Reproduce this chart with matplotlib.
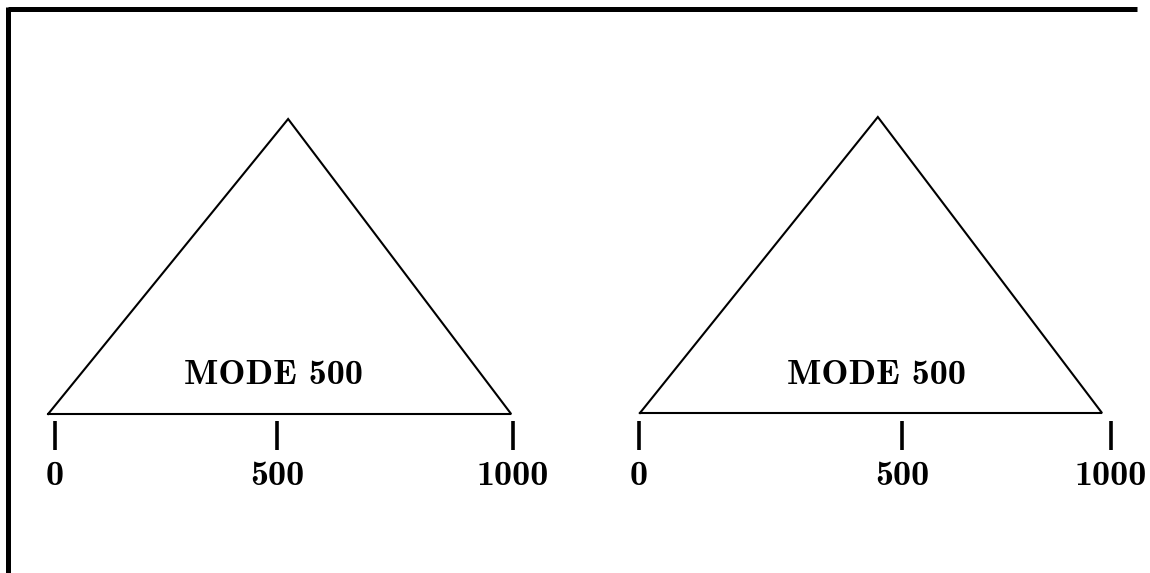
import matplotlib
matplotlib.use("Agg")
import matplotlib.pyplot as plt
from matplotlib.lines import Line2D

# Data (x in value units, y relative height)
panel_names = ["left", "right"]
tri_x_left = [-15, 509, 996]
tri_x_right = [2, 506, 981]
tri_y = [0, 1, 0]
tick_pos_left = [0, 485, 1000]
tick_pos_right = [0, 557, 1000]
tick_labels = ["0", "500", "1000"]
mode_label = "MODE 500"

W, H = 1150, 573
fig = plt.figure(figsize=(W / 100, H / 100), dpi=100)

FONT = "cmb10"
FS = 26

def add_panel(px0, px1, base_px, peak_px, tri_x, tick_pos, text_x):
    ax = fig.add_axes([px0 / W, 1 - base_px / H, (px1 - px0) / W, (base_px - peak_px) / H])
    ax.set_xlim(0, 1000)
    ax.set_ylim(0, 1)
    ax.axis("off")
    ax.plot(tri_x + [tri_x[0]], tri_y + [tri_y[0]], color="black", lw=1.5,
            clip_on=False, solid_joinstyle="miter")
    span = base_px - peak_px
    trans = ax.get_xaxis_transform()
    ax.vlines(tick_pos, -(450 - base_px) / span, -(421 - base_px) / span,
              colors="black", lw=2.6, transform=trans, clip_on=False)
    for p, lab in zip(tick_pos, tick_labels):
        ax.text(p, -(485 - base_px) / span, lab, transform=trans, ha="center",
                va="baseline", fontsize=FS, family=FONT, color="black", clip_on=False)
    ax.text(text_x, (base_px - 384) / span, mode_label, transform=trans, ha="center",
            va="baseline", fontsize=FS, family=FONT, color="black", clip_on=False)
    return ax

add_panel(55, 513, 414, 119, tri_x_left, tick_pos_left, 477)
add_panel(639, 1111, 413, 117, tri_x_right, tick_pos_right, 503)

# frame: top and left edges only
fig.add_artist(Line2D([7.5 / W, 1137 / W], [1 - 9 / H, 1 - 9 / H], color="black", lw=3.6,
                      transform=fig.transFigure, solid_capstyle="butt"))
fig.add_artist(Line2D([7.5 / W, 7.5 / W], [0, 1 - 7 / H], color="black", lw=3.6,
                      transform=fig.transFigure, solid_capstyle="butt"))

fig.savefig("out.png", dpi=100, facecolor="white")
